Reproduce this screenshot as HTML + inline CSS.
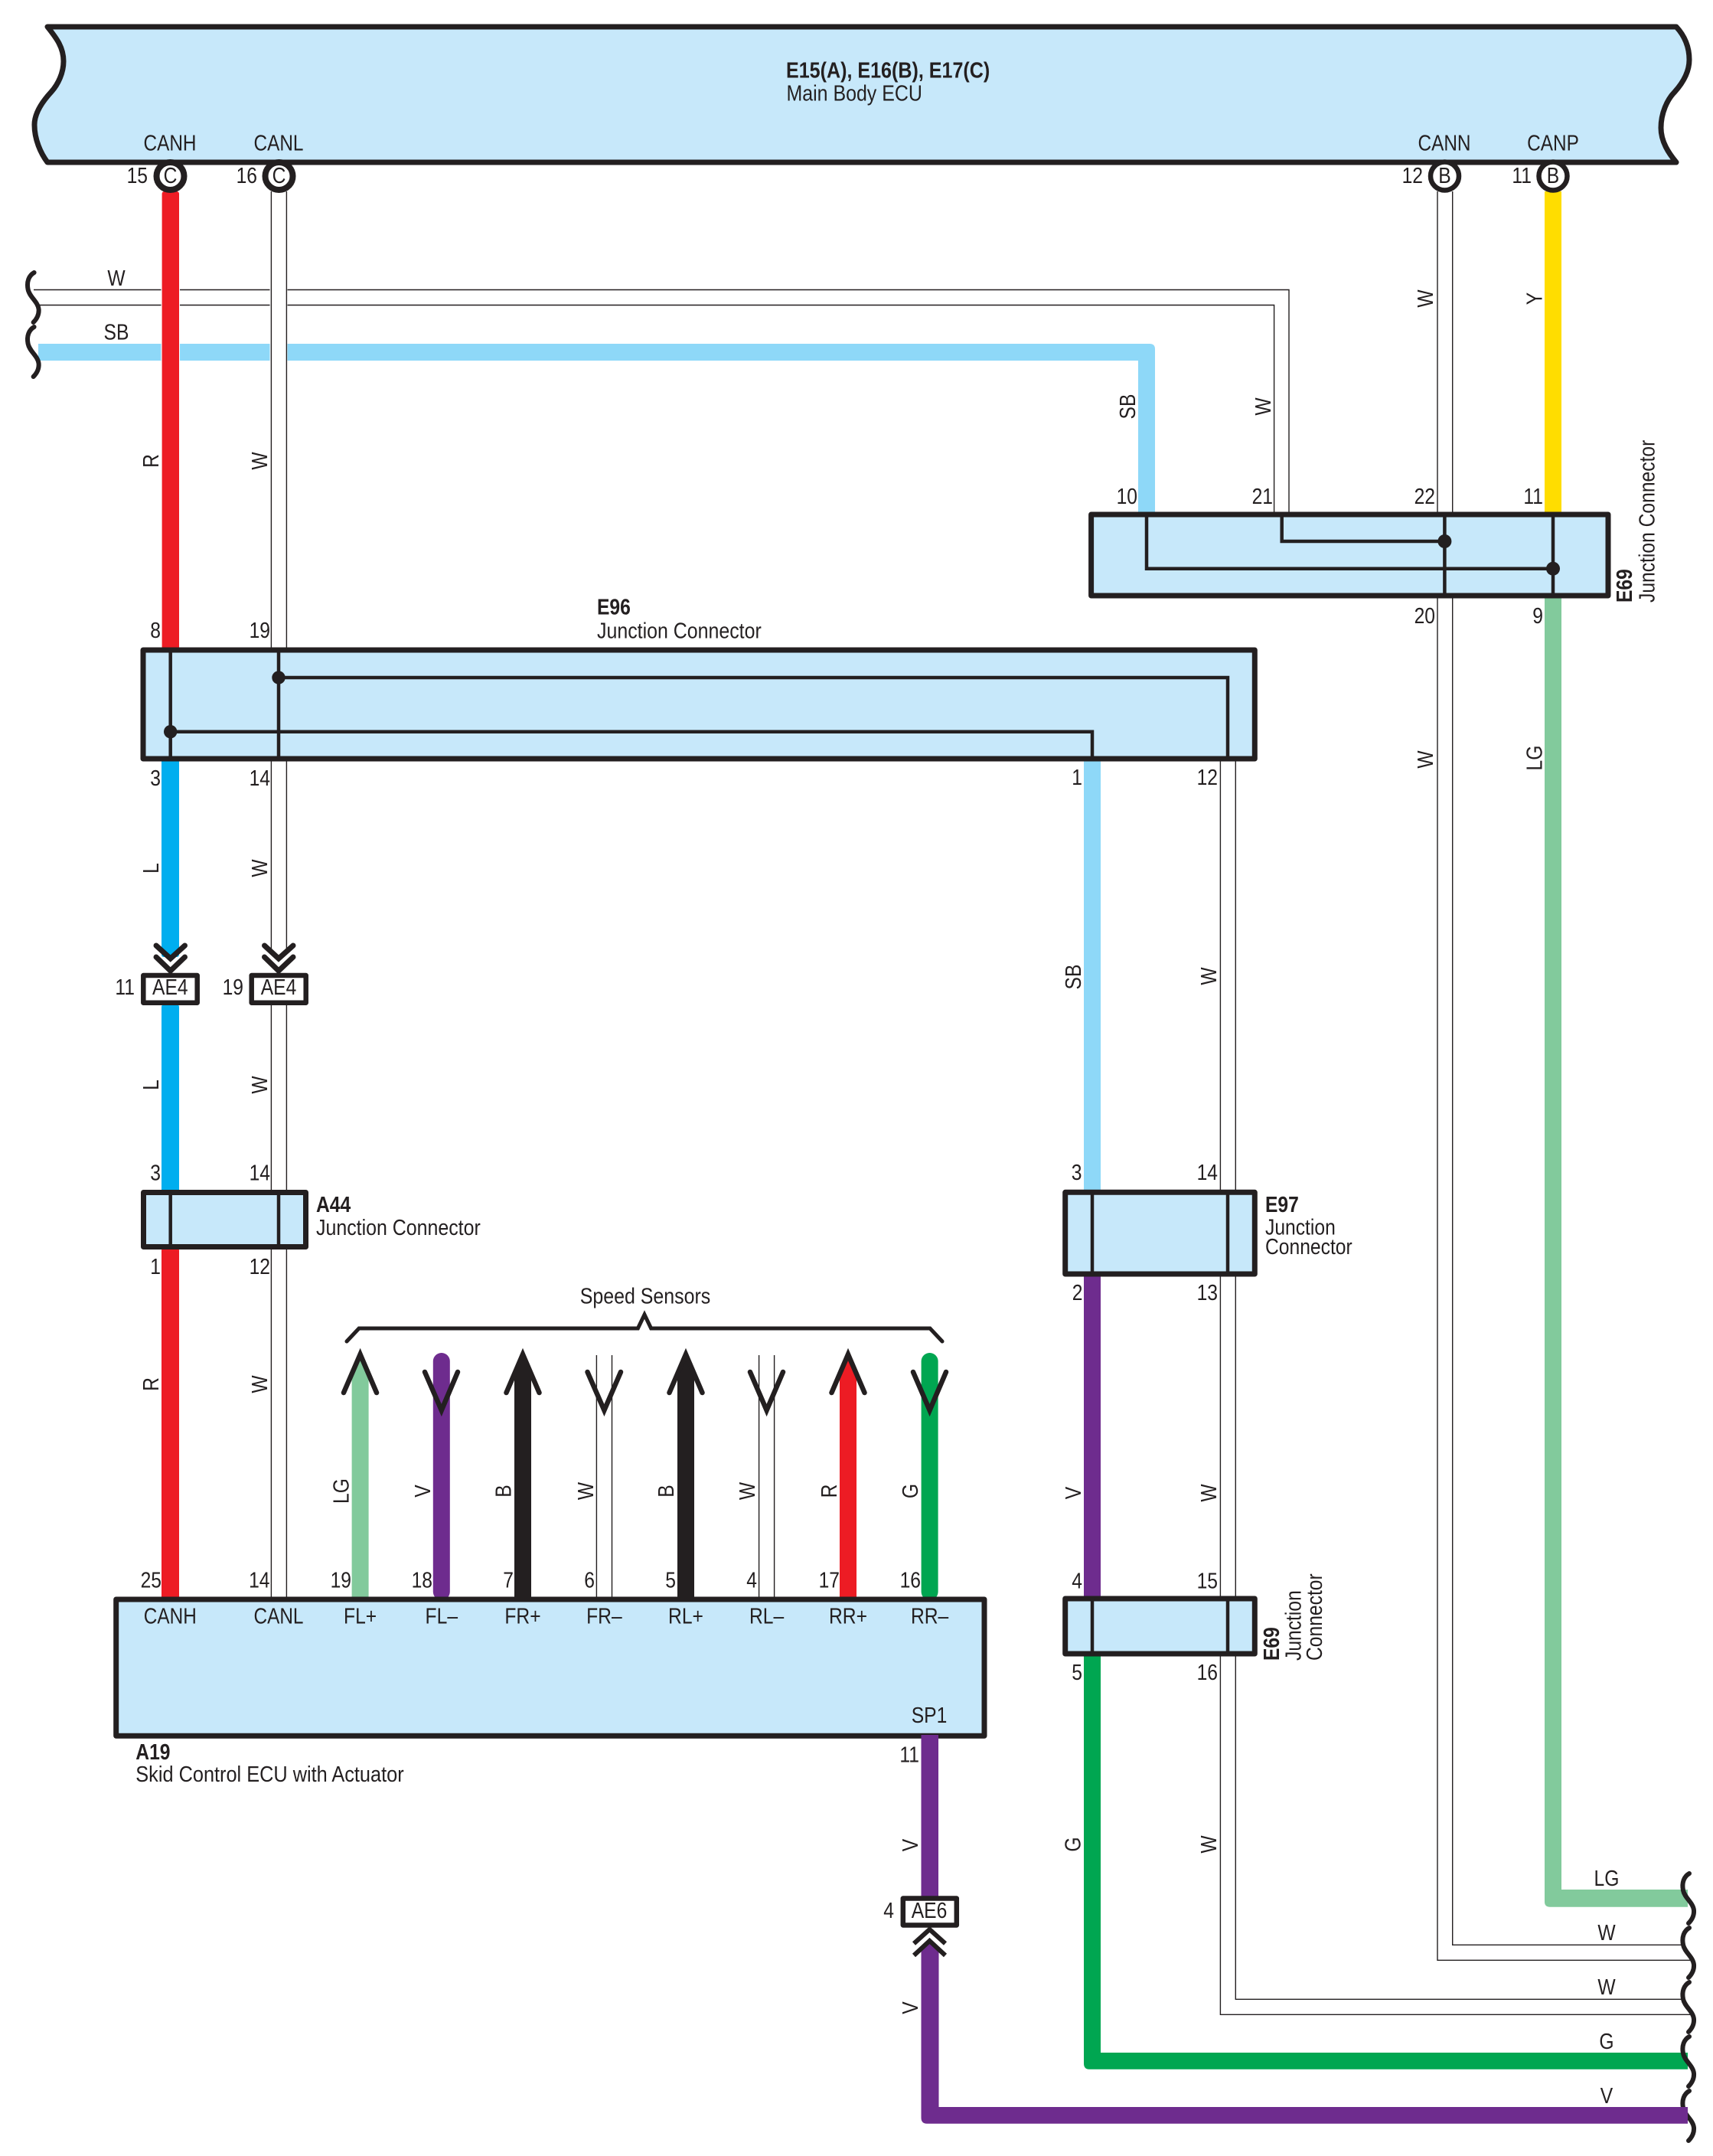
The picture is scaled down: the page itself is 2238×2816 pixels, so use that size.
<!DOCTYPE html>
<html><head><meta charset="utf-8"><title>Wiring diagram</title>
<style>
html,body{margin:0;padding:0;background:#fff}
svg{display:block}
text{font-family:"Liberation Sans",sans-serif;font-size:29px;fill:#231F20}
.e{text-anchor:end}.m{text-anchor:middle}.b{font-weight:bold}
.box{fill:#C7E8FA;stroke:#231F20;stroke-width:7;stroke-linejoin:round}
.wb{fill:#fff;stroke:#231F20;stroke-width:6.5;stroke-linejoin:round}
.in{fill:none;stroke:#231F20;stroke-width:4.5}
.w{fill:none;stroke:#231F20;stroke-width:1.4}
.ar{fill:none;stroke:#231F20;stroke-width:6.5;stroke-linecap:round;stroke-linejoin:miter}
.sq{fill:none;stroke:#231F20;stroke-width:6;stroke-linecap:round}
</style></head><body>
<svg xmlns="http://www.w3.org/2000/svg" width="2238" height="2816" viewBox="0 0 2238 2816">
<rect width="2238" height="2816" fill="#fff"/>

<!-- upper W and SB horizontal runs -->
<path class="w" d="M44 378.5H1684V672"/>
<path class="w" d="M52 398.5H1664.6V672"/>
<path d="M50 449H1502Q1509 449 1509 456V672H1487V471H50Z" fill="#8ED8F8"/>
<rect x="352.5" y="370" width="23" height="110" fill="#fff"/>
<rect x="210.5" y="370" width="24.5" height="110" fill="#fff"/>

<!-- vertical wires left -->
<rect x="211.6" y="250" width="22.4" height="602" rx="3" fill="#ED1C24"/>
<rect x="211" y="988" width="23" height="262" rx="3" fill="#00AEEF"/>
<rect x="211" y="1312" width="23" height="245" rx="3" fill="#00AEEF"/>
<rect x="211" y="1630" width="23" height="460" rx="3" fill="#ED1C24"/>
<path class="w" d="M354.4 250V1240M374.4 250V1240M354.4 1310V2090M374.4 1310V2090"/>

<!-- CANN / CANP / E69 -->
<path class="w" d="M1878 250V2560.3H2208"/>
<path class="w" d="M1897.7 250V2540.3H2198"/>
<rect x="2018" y="250" width="22" height="424" fill="#FFDD00"/>
<path d="M2018 776V2484Q2018 2490.7 2025 2490.7H2205V2468H2040V776Z" fill="#82CA9C"/>

<!-- E96 right side wires -->
<rect x="1416" y="988" width="22" height="572" fill="#8ED8F8"/>
<rect x="1416" y="1660" width="22" height="430" fill="#6E2C8E"/>
<path d="M1416 2158V2695Q1416 2702.7 1423 2702.7H2205V2681H1438V2158Z" fill="#00A651"/>
<path class="w" d="M1594.4 991V2631.3H2208"/>
<path class="w" d="M1614.3 991V2611.3H2198"/>

<!-- Main Body ECU -->
<path class="box" d="M62 35H2190C2202 48 2207 62 2207 78C2207 96 2197 110 2188 120C2178 130 2170 148 2170 167C2170 185 2180 200 2190 212H62C53 200 45 182 45 163C45 148 55 133 67 120C76 110 83 95 83 80C83 62 74 50 62 35Z"/>
<circle cx="222.5" cy="230" r="18" fill="#fff" stroke="#231F20" stroke-width="8"/>
<circle cx="364.5" cy="230" r="18" fill="#fff" stroke="#231F20" stroke-width="8"/>
<circle class="wb" cx="1887.5" cy="230" r="18.5"/>
<circle class="wb" cx="2029" cy="230" r="18.5"/>
<text class="b" transform="translate(1027,101.7) scale(.865,1)">E15(A), E16(B), E17(C)</text>
<text transform="translate(1027.5,131.7) scale(.86,1)">Main Body ECU</text>
<text class="m" transform="translate(222,196.5) scale(.84,1)">CANH</text>
<text class="m" transform="translate(364,196.5) scale(.84,1)">CANL</text>
<text class="m" transform="translate(1887,196.5) scale(.84,1)">CANN</text>
<text class="m" transform="translate(2029,196.5) scale(.84,1)">CANP</text>
<text class="m" transform="translate(222.5,239) scale(.85,1)">C</text>
<text class="m" transform="translate(364.5,239) scale(.85,1)">C</text>
<text class="m" transform="translate(1887.5,239) scale(.85,1)">B</text>
<text class="m" transform="translate(2029,239) scale(.85,1)">B</text>
<text class="e" transform="translate(193,239) scale(.85,1)">15</text>
<text class="e" transform="translate(336,239) scale(.85,1)">16</text>
<text class="e" transform="translate(1859,239) scale(.85,1)">12</text>
<text class="e" transform="translate(2001,239) scale(.85,1)">11</text>

<!-- squiggles -->
<path class="sq" transform="translate(-2162.4,-2091)" d="M2207 2447C2200 2451 2197 2459 2199 2469C2201 2479 2212 2485 2213 2495C2213.5 2502 2210 2508 2206 2512"/>
<path class="sq" transform="translate(-2162.4,-2020)" d="M2207 2447C2200 2451 2197 2459 2199 2469C2201 2479 2212 2485 2213 2495C2213.5 2502 2210 2508 2206 2512"/>
<path class="sq" d="M2207 2447C2200 2451 2197 2459 2199 2469C2201 2479 2212 2485 2213 2495C2213.5 2502 2210 2508 2206 2512"/>
<path class="sq" transform="translate(0,71)" d="M2207 2447C2200 2451 2197 2459 2199 2469C2201 2479 2212 2485 2213 2495C2213.5 2502 2210 2508 2206 2512"/>
<path class="sq" transform="translate(0,142)" d="M2207 2447C2200 2451 2197 2459 2199 2469C2201 2479 2212 2485 2213 2495C2213.5 2502 2210 2508 2206 2512"/>
<path class="sq" transform="translate(0,213)" d="M2207 2447C2200 2451 2197 2459 2199 2469C2201 2479 2212 2485 2213 2495C2213.5 2502 2210 2508 2206 2512"/>
<path class="sq" transform="translate(0,284)" d="M2207 2447C2200 2451 2197 2459 2199 2469C2201 2479 2212 2485 2213 2495C2213.5 2502 2210 2508 2206 2512"/>

<!-- E69 top connector -->
<rect class="box" x="1425.6" y="672" width="675.4" height="106"/>
<path class="in" d="M1887.4 672V778M2029 672V778M1498 672V742.7H2029M1674.7 672V707H1887.4"/>
<circle cx="1887.4" cy="707" r="9" fill="#231F20"/>
<circle cx="2029" cy="742.7" r="9" fill="#231F20"/>
<text class="b" transform="translate(2132,787) rotate(-90) scale(.85,1)">E69</text>
<text transform="translate(2161.5,787) rotate(-90) scale(.85,1)">Junction Connector</text>

<!-- E96 -->
<rect class="box" x="187" y="849" width="1452.3" height="142"/>
<path class="in" d="M222.7 849V991M364 849V991M364 885H1604V991M222.7 955.7H1427V991"/>
<circle cx="364" cy="885" r="8.7" fill="#231F20"/>
<circle cx="222.7" cy="955.7" r="8.7" fill="#231F20"/>
<text class="b" transform="translate(780,802.7) scale(.85,1)">E96</text>
<text transform="translate(780,833.3) scale(.86,1)">Junction Connector</text>

<!-- AE4 -->
<path class="ar" style="stroke-width:7" d="M204 1235L222.7 1252L241.5 1235M204 1250L222.7 1268L241.5 1250"/>
<path class="ar" style="stroke-width:7" d="M345.5 1235L364 1252L383 1235M345.5 1250L364 1268L383 1250"/>
<rect class="wb" x="187.3" y="1274" width="70.4" height="35.7"/>
<rect class="wb" x="328.7" y="1274" width="71" height="35.7"/>
<text class="m" transform="translate(222.3,1299) scale(.85,1)">AE4</text>
<text class="m" transform="translate(364,1299) scale(.85,1)">AE4</text>
<text class="e" transform="translate(176,1299) scale(.85,1)">11</text>
<text class="e" transform="translate(318,1299) scale(.85,1)">19</text>

<!-- A44 -->
<rect class="box" x="187.5" y="1557.5" width="212" height="71"/>
<path class="in" d="M222.7 1557V1629M364 1557V1629"/>
<text class="b" transform="translate(413,1583) scale(.85,1)">A44</text>
<text transform="translate(413,1613) scale(.86,1)">Junction Connector</text>

<!-- E97 -->
<rect class="box" x="1391.7" y="1557.3" width="247.6" height="106.7"/>
<path class="in" d="M1427 1557V1664M1604 1557V1664"/>
<text class="b" transform="translate(1653,1583) scale(.85,1)">E97</text>
<text transform="translate(1653,1612.7) scale(.85,1)">Junction</text>
<text transform="translate(1653,1638) scale(.85,1)">Connector</text>

<!-- E69 lower -->
<rect class="box" x="1391.7" y="2088" width="247.6" height="72"/>
<path class="in" d="M1427 2088V2160M1604 2088V2160"/>
<text class="b" transform="translate(1671,2169) rotate(-90) scale(.85,1)">E69</text>
<text transform="translate(1699.5,2169) rotate(-90) scale(.85,1)">Junction</text>
<text transform="translate(1727,2169) rotate(-90) scale(.85,1)">Connector</text>

<!-- sensor wires -->
<path d="M470.6 1776L481.6 1800V2090H459.6V1800Z" fill="#82CA9C"/>
<rect x="565.8" y="1767" width="22" height="323" rx="11" fill="#6E2C8E"/>
<path d="M683 1772L694 1800V2090H672V1800Z" fill="#231F20"/>
<path class="w" d="M779.4 1770V2090M799.5 1770V2090"/>
<path d="M896 1772L907 1800V2090H885V1800Z" fill="#231F20"/>
<path class="w" d="M991.6 1770V2090M1011.6 1770V2090"/>
<path d="M1108 1776L1119 1800V2090H1097V1800Z" fill="#ED1C24"/>
<rect x="1203.6" y="1767" width="22" height="323" rx="11" fill="#00A651"/>
<path class="ar" d="M449 1819L470.6 1769L492 1819"/>
<path class="ar" d="M555 1792L576.8 1842L598 1792"/>
<path class="ar" d="M661.5 1819L683 1769L704.5 1819"/>
<path class="ar" d="M767.5 1792L789.4 1842L811 1792"/>
<path class="ar" d="M874.5 1819L896 1769L917.5 1819"/>
<path class="ar" d="M980 1792L1001.6 1842L1023 1792"/>
<path class="ar" d="M1086.5 1819L1108 1769L1129.5 1819"/>
<path class="ar" d="M1193 1792L1214.6 1842L1236 1792"/>
<path class="ar" style="stroke-width:5" d="M453 1752L469 1735H833.4L842 1717L850.6 1735H1215L1231 1752"/>
<text class="m" transform="translate(843,1702.5) scale(.86,1)">Speed Sensors</text>

<!-- A19 -->
<rect class="box" x="151.7" y="2089" width="1134.3" height="178.3"/>
<text class="m" transform="translate(222.3,2120.7) scale(.84,1)">CANH</text>
<text class="m" transform="translate(364,2120.7) scale(.84,1)">CANL</text>
<text class="m" transform="translate(470.6,2120.7) scale(.85,1)">FL+</text>
<text class="m" transform="translate(576.8,2120.7) scale(.85,1)">FL–</text>
<text class="m" transform="translate(683,2120.7) scale(.85,1)">FR+</text>
<text class="m" transform="translate(789.4,2120.7) scale(.85,1)">FR–</text>
<text class="m" transform="translate(896,2120.7) scale(.85,1)">RL+</text>
<text class="m" transform="translate(1001.6,2120.7) scale(.85,1)">RL–</text>
<text class="m" transform="translate(1108,2120.7) scale(.85,1)">RR+</text>
<text class="m" transform="translate(1214.6,2120.7) scale(.85,1)">RR–</text>
<text class="m" transform="translate(1214,2250) scale(.85,1)">SP1</text>
<text class="b" transform="translate(177.3,2298) scale(.85,1)">A19</text>
<text transform="translate(177.3,2327) scale(.873,1)">Skid Control ECU with Actuator</text>

<!-- V wire, AE6 -->
<rect x="1203.5" y="2266" width="22.5" height="212" fill="#6E2C8E"/>
<path d="M1203.5 2549L1215 2538L1226.5 2549V2752H2205V2773.7H1211Q1203.5 2773.7 1203.5 2766Z" fill="#6E2C8E"/>
<path fill="none" stroke="#231F20" stroke-width="6" d="M1194 2538.5L1214.5 2520L1235 2538.5M1194 2554L1214.5 2535L1235 2554"/>
<rect class="wb" x="1179.8" y="2479.5" width="70" height="35"/>
<text class="m" transform="translate(1214,2505) scale(.85,1)">AE6</text>
<text class="e" transform="translate(1168,2505) scale(.85,1)">4</text>

<!-- pin numbers -->
<text class="e" transform="translate(210,833) scale(.85,1)">8</text>
<text class="e" transform="translate(353,833) scale(.85,1)">19</text>
<text class="e" transform="translate(210,1026) scale(.85,1)">3</text>
<text class="e" transform="translate(353,1026) scale(.85,1)">14</text>
<text class="e" transform="translate(1414,1025) scale(.85,1)">1</text>
<text class="e" transform="translate(1591,1025) scale(.85,1)">12</text>
<text class="e" transform="translate(210,1541.5) scale(.85,1)">3</text>
<text class="e" transform="translate(353,1541.5) scale(.85,1)">14</text>
<text class="e" transform="translate(210,1664) scale(.85,1)">1</text>
<text class="e" transform="translate(353,1664) scale(.85,1)">12</text>
<text class="e" transform="translate(1413.5,1541) scale(.85,1)">3</text>
<text class="e" transform="translate(1591,1541) scale(.85,1)">14</text>
<text class="e" transform="translate(1414.5,1698) scale(.85,1)">2</text>
<text class="e" transform="translate(1591,1698) scale(.85,1)">13</text>
<text class="e" transform="translate(1414,2074.4) scale(.85,1)">4</text>
<text class="e" transform="translate(1591,2074.4) scale(.85,1)">15</text>
<text class="e" transform="translate(1414,2194) scale(.85,1)">5</text>
<text class="e" transform="translate(1591,2194) scale(.85,1)">16</text>
<text class="e" transform="translate(211,2073.6) scale(.85,1)">25</text>
<text class="e" transform="translate(352.5,2073.6) scale(.85,1)">14</text>
<text class="e" transform="translate(459,2073.6) scale(.85,1)">19</text>
<text class="e" transform="translate(565,2073.6) scale(.85,1)">18</text>
<text class="e" transform="translate(671,2073.6) scale(.85,1)">7</text>
<text class="e" transform="translate(777,2073.6) scale(.85,1)">6</text>
<text class="e" transform="translate(883,2073.6) scale(.85,1)">5</text>
<text class="e" transform="translate(989,2073.6) scale(.85,1)">4</text>
<text class="e" transform="translate(1097,2073.6) scale(.85,1)">17</text>
<text class="e" transform="translate(1203,2073.6) scale(.85,1)">16</text>
<text class="e" transform="translate(1201,2301.6) scale(.85,1)">11</text>
<text class="e" transform="translate(1486,658) scale(.85,1)">10</text>
<text class="e" transform="translate(1663,658) scale(.85,1)">21</text>
<text class="e" transform="translate(1875,658) scale(.85,1)">22</text>
<text class="e" transform="translate(2016,658) scale(.85,1)">11</text>
<text class="e" transform="translate(1875,814) scale(.85,1)">20</text>
<text class="e" transform="translate(2016,814) scale(.85,1)">9</text>

<!-- horizontal wire colour labels -->
<text class="m" transform="translate(152,373) scale(.85,1)">W</text>
<text class="m" transform="translate(152,443.5) scale(.85,1)">SB</text>
<text class="m" transform="translate(2099,2463) scale(.85,1)">LG</text>
<text class="m" transform="translate(2099,2534) scale(.85,1)">W</text>
<text class="m" transform="translate(2099,2605) scale(.85,1)">W</text>
<text class="m" transform="translate(2099,2676) scale(.85,1)">G</text>
<text class="m" transform="translate(2099,2747) scale(.85,1)">V</text>

<!-- vertical wire colour labels -->
<text class="m" transform="translate(207,602) rotate(-90) scale(.85,1)">R</text>
<text class="m" transform="translate(349,602) rotate(-90) scale(.85,1)">W</text>
<text class="m" transform="translate(207,1134) rotate(-90) scale(.85,1)">L</text>
<text class="m" transform="translate(349,1134) rotate(-90) scale(.85,1)">W</text>
<text class="m" transform="translate(207,1417) rotate(-90) scale(.85,1)">L</text>
<text class="m" transform="translate(349,1417) rotate(-90) scale(.85,1)">W</text>
<text class="m" transform="translate(207,1808) rotate(-90) scale(.85,1)">R</text>
<text class="m" transform="translate(349,1808) rotate(-90) scale(.85,1)">W</text>
<text class="m" transform="translate(1483,531) rotate(-90) scale(.85,1)">SB</text>
<text class="m" transform="translate(1660,531) rotate(-90) scale(.85,1)">W</text>
<text class="m" transform="translate(1872,390) rotate(-90) scale(.85,1)">W</text>
<text class="m" transform="translate(2014.5,390) rotate(-90) scale(.85,1)">Y</text>
<text class="m" transform="translate(1872,992) rotate(-90) scale(.85,1)">W</text>
<text class="m" transform="translate(2014.5,990) rotate(-90) scale(.85,1)">LG</text>
<text class="m" transform="translate(1412,1276) rotate(-90) scale(.85,1)">SB</text>
<text class="m" transform="translate(1589,1275) rotate(-90) scale(.85,1)">W</text>
<text class="m" transform="translate(1412,1950) rotate(-90) scale(.85,1)">V</text>
<text class="m" transform="translate(1589,1950) rotate(-90) scale(.85,1)">W</text>
<text class="m" transform="translate(1411.6,2409) rotate(-90) scale(.85,1)">G</text>
<text class="m" transform="translate(1589,2409) rotate(-90) scale(.85,1)">W</text>
<text class="m" transform="translate(1199,2410) rotate(-90) scale(.85,1)">V</text>
<text class="m" transform="translate(1199,2622.5) rotate(-90) scale(.85,1)">V</text>
<text class="m" transform="translate(455.5,1947.5) rotate(-90) scale(.85,1)">LG</text>
<text class="m" transform="translate(562,1947.5) rotate(-90) scale(.85,1)">V</text>
<text class="m" transform="translate(667.5,1947.5) rotate(-90) scale(.85,1)">B</text>
<text class="m" transform="translate(775,1947.5) rotate(-90) scale(.85,1)">W</text>
<text class="m" transform="translate(880,1947.5) rotate(-90) scale(.85,1)">B</text>
<text class="m" transform="translate(986,1947.5) rotate(-90) scale(.85,1)">W</text>
<text class="m" transform="translate(1093,1947.5) rotate(-90) scale(.85,1)">R</text>
<text class="m" transform="translate(1199,1947.5) rotate(-90) scale(.85,1)">G</text>
</svg>
</body></html>
